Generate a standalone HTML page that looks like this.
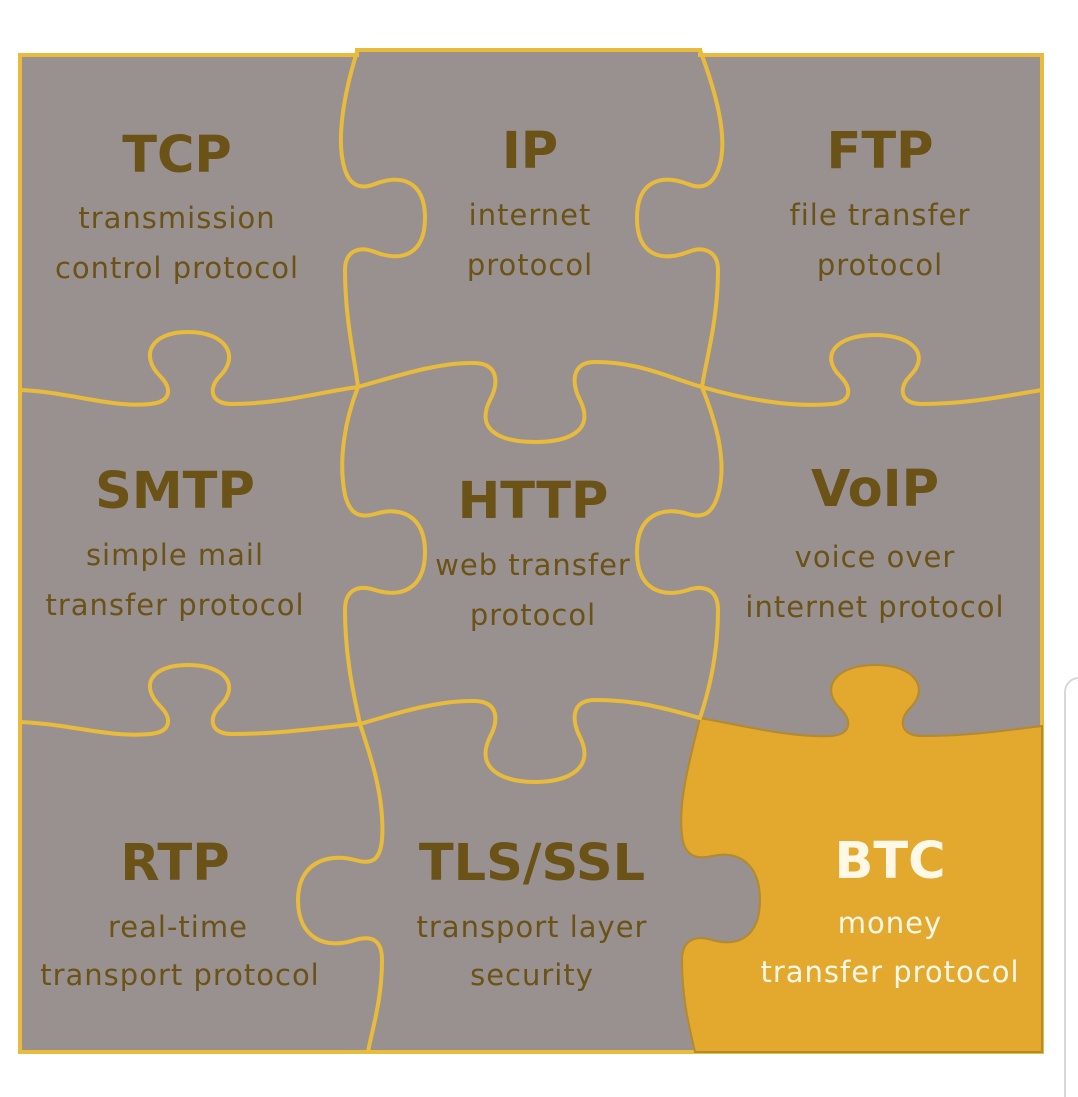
<!DOCTYPE html>
<html><head><meta charset="utf-8"><style>
html,body{margin:0;padding:0;background:#fff;width:1078px;height:1097px;overflow:hidden}
svg{display:block}
text{font-family:"DejaVu Sans","Liberation Sans",sans-serif;text-anchor:middle}
.t{font-weight:bold;font-size:51px;fill:#6b5217}
.s{font-size:29px;letter-spacing:1px;fill:#6b5217}
.w{fill:#fff8e6}
</style></head><body>
<svg width="1078" height="1097" viewBox="0 0 1078 1097">
<rect x="1065" y="678" width="30" height="440" rx="14" fill="none" stroke="#d8d8d8" stroke-width="2"/>
<path d="M20,55 L357,55 L357,50 L700,50 L700,55 L1042,55 L1042,1052 L20,1052 Z" fill="#99918f" stroke="#e9bb3c" stroke-width="4"/>
<path d="M700,718 C740,725 790,738 832,736 C852,734 852,720 840,708 C820,688 835,665 875,665 C915,665 930,688 910,708 C898,720 900,736 922,736 C970,736 1010,730 1042,726 L1042,1052 L695,1052 C690,1030 682,1000 682,960 C682,940 695,935 712,940 C740,948 760,935 760,900 C760,865 740,850 712,856 C695,860 684,855 682,835 C678,800 690,760 700,718 Z" fill="#e3a92e" stroke="#b48a2c" stroke-width="2"/>
<g fill="none" stroke="#e9bb3c" stroke-width="4" stroke-linecap="round">
<path d="M20,390 C70,392 110,408 150,404 C172,402 172,388 160,376 C140,356 150,332 188,332 C226,332 240,356 220,376 C208,388 210,404 232,404 C280,404 320,392 358,387"/>
<path d="M358,387 C400,375 440,362 475,363 C500,364 498,385 490,400 C475,430 500,442 535,442 C570,442 595,430 580,400 C572,385 570,362 595,362 C640,362 670,378 702,387"/>
<path d="M702,387 C740,398 790,408 832,404 C852,402 852,388 840,376 C820,356 835,335 875,335 C915,335 930,356 910,376 C898,388 900,404 922,404 C970,404 1010,395 1042,390"/>
<path d="M20,722 C70,724 110,738 150,734 C172,732 172,718 160,706 C140,686 150,665 188,665 C226,665 240,686 220,706 C208,718 210,734 232,734 C280,734 320,728 360,724"/>
<path d="M360,724 C400,712 440,700 475,701 C500,702 498,722 490,737 C475,767 500,782 535,782 C570,782 595,767 580,737 C572,722 570,700 595,700 C640,700 670,710 700,718"/>
<path d="M357,52 C345,90 335,140 345,170 C350,185 360,190 375,184 C400,174 425,180 425,218 C425,256 400,262 375,252 C360,246 345,250 345,270 C345,320 355,360 358,387"/>
<path d="M700,50 C715,90 730,140 718,170 C712,185 702,190 688,184 C662,174 637,180 637,218 C637,256 662,262 688,252 C702,246 718,250 718,270 C718,320 706,360 702,387"/>
<path d="M358,387 C345,420 338,460 345,495 C350,515 360,518 375,514 C400,506 425,515 425,552 C425,590 400,598 375,590 C360,585 345,588 345,610 C345,660 355,700 360,724"/>
<path d="M702,387 C715,420 728,460 718,495 C712,515 702,518 688,514 C662,506 637,515 637,552 C637,590 662,598 688,590 C702,585 718,588 718,610 C718,660 706,700 700,718"/>
<path d="M360,724 C372,760 385,800 382,840 C380,860 372,865 355,860 C325,852 298,865 298,900 C298,938 325,950 355,940 C372,935 382,940 382,960 C382,1000 372,1030 368,1052"/>
</g>
<text class="t" x="177" y="172">TCP</text>
<text class="s" x="177" y="228">transmission</text>
<text class="s" x="177" y="278">control protocol</text>
<text class="t" x="530" y="168">IP</text>
<text class="s" x="530" y="225">internet</text>
<text class="s" x="530" y="275">protocol</text>
<text class="t" x="880" y="168">FTP</text>
<text class="s" x="880" y="225">file transfer</text>
<text class="s" x="880" y="275">protocol</text>
<text class="t" x="175" y="508">SMTP</text>
<text class="s" x="175" y="565">simple mail</text>
<text class="s" x="175" y="615">transfer protocol</text>
<text class="t" x="533" y="518">HTTP</text>
<text class="s" x="533" y="575">web transfer</text>
<text class="s" x="533" y="625">protocol</text>
<text class="t" x="875" y="506">VoIP</text>
<text class="s" x="875" y="567">voice over</text>
<text class="s" x="875" y="617">internet protocol</text>
<text class="t" x="175" y="880">RTP</text>
<text class="s" x="178" y="937">real-time</text>
<text class="s" x="180" y="985">transport protocol</text>
<text class="t" x="532" y="880">TLS/SSL</text>
<text class="s" x="532" y="937">transport layer</text>
<text class="s" x="532" y="985">security</text>
<text class="t w" x="890" y="878">BTC</text>
<text class="s w" x="890" y="933">money</text>
<text class="s w" x="890" y="982">transfer protocol</text>
</svg>
</body></html>
